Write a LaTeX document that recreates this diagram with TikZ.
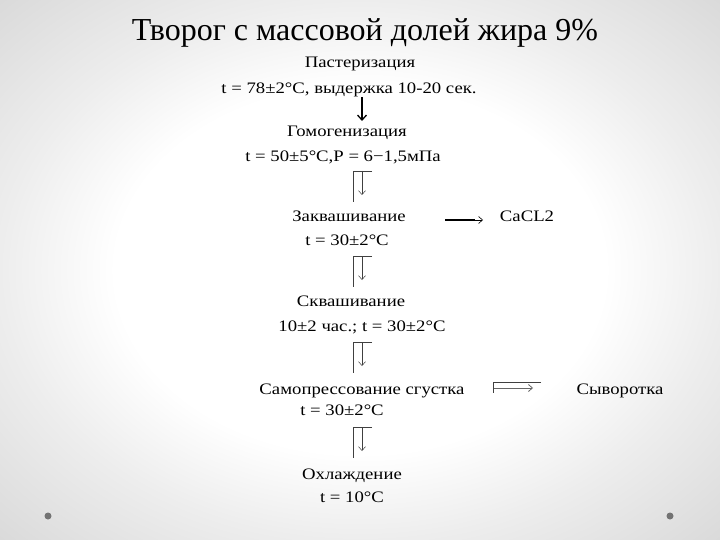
\documentclass[tikz,border=0pt]{standalone}
\usepackage{fontspec}
\setmainfont{Liberation Serif}
\newfontfamily\stagefont[FakeStretch=1.17]{Liberation Serif}
\usetikzlibrary{arrows.meta}

\pgfdeclareradialshading{vignette}{\pgfpoint{0bp}{0bp}}{%
  color(0bp)=(white); color(17bp)=(white); color(25bp)=(black!7);
  color(36bp)=(black!15); color(50bp)=(black!15)}

\begin{document}
\begin{tikzpicture}[x=1pt,y=-1pt,
  stage/.style={font=\stagefont\fontsize{16}{18}\selectfont, inner sep=0pt, anchor=mid},
  bracket/.style={line width=0.5pt, black!75},
  barb/.style={-{Straight Barb[length=4pt,width=7pt]}}]
\shade[shading=vignette] (0,0) rectangle (720,540);
\useasboundingbox (0,0) rectangle (720,540);
\fill[black!55] (48,516) circle (3.5) (670,516) circle (3.5);

\node (title) at (365,33) {\fontsize{32}{36}\selectfont Творог с массовой долей жира 9\%};

% stages
\node[stage] (past)  at (360,65)  {Пастеризация};
\node[stage] (pastT) at (349,91)  {t = 78±2°С, выдержка 10-20 сек.};
\node[stage] (homo)  at (347,134) {Гомогенизация};
\node[stage] (homoT) at (343,159) {t = 50±5°С,Р = 6−1,5мПа};
\node[stage] (zakv)  at (349,219) {Заквашивание};
\node[stage] (zakvT) at (347,243) {t = 30±2°С};
\node[stage] (cacl)  at (527,219) {CaCL2};
\node[stage] (skv)   at (351,304) {Сквашивание};
\node[stage] (skvT)  at (362,329) {10±2 час.; t = 30±2°С};
\node[stage] (samo)  at (362,392) {Самопрессование сгустка};
\node[stage] (samoT) at (342,413) {t = 30±2°С};
\node[stage] (syv)   at (620,392) {Сыворотка};
\node[stage] (ohl)   at (352,477) {Охлаждение};
\node[stage] (ohlT)  at (352,500) {t = 10°С};

% arrows
\coordinate (a1) at (362,97);
\draw[line width=1.3pt, -{Straight Barb[length=5pt,width=9pt]}]
     (a1) -- ++(0,24);
\foreach \y/\n in {171/b1,256/b2,342/b3,427/b4} {
  \coordinate (\n) at (362,\y);
  \draw[bracket] (\n) ++(10,0) -- ++(-19,0) -- ++(0,31);
  \draw[bracket, barb] (\n) -- ++(0,24);
}
\coordinate (r1) at (445,220);
\draw[line width=1.5pt] (r1) -- ++(30,0);
\draw[line width=0.6pt, barb] (r1) ++(29,0) -- ++(9,0);
\coordinate (r2) at (493,382);
\draw[bracket] (r2) ++(48,0) -- (r2) -- ++(0,11);
\draw[line width=0.8pt, black!60, barb] (r2) ++(1,6) -- ++(39,0);
\end{tikzpicture}
\end{document}
